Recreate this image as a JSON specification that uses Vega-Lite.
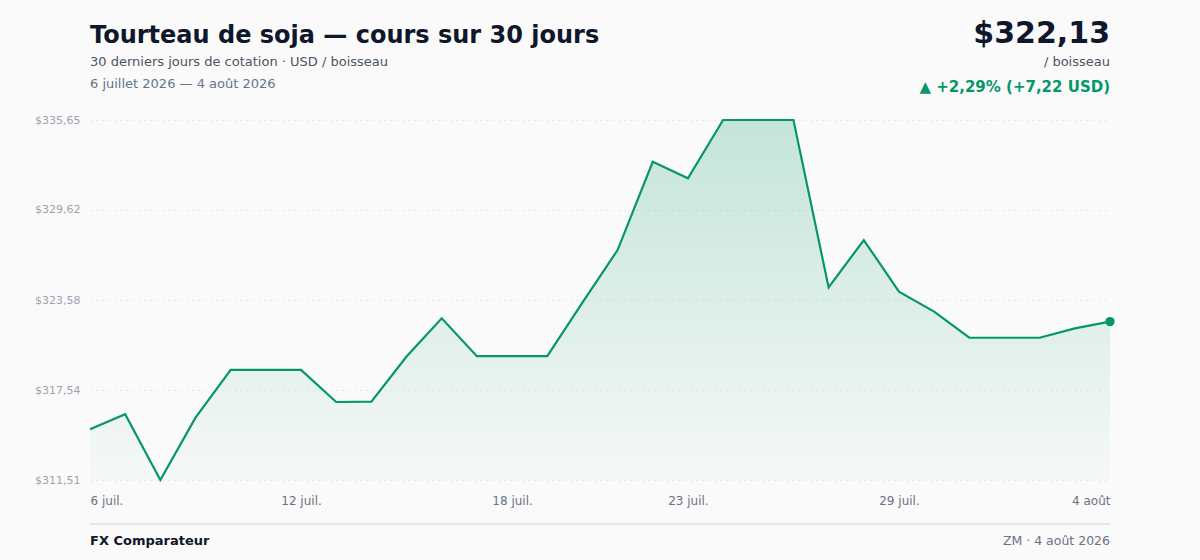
{
  "$schema": "https://vega.github.io/schema/vega-lite/v6.json",
  "width": 1020,
  "height": 360,
  "autosize": {"type": "none"},
  "padding": {"left": 90, "right": 90, "top": 120, "bottom": 80},
  "background": "#fafafa",
  "datasets": {
    "prices": [
      {"date": "2026-07-06", "price": 314.91},
      {"date": "2026-07-07", "price": 315.92},
      {"date": "2026-07-08", "price": 311.51},
      {"date": "2026-07-09", "price": 315.69},
      {"date": "2026-07-10", "price": 318.89},
      {"date": "2026-07-11", "price": 318.89},
      {"date": "2026-07-12", "price": 318.89},
      {"date": "2026-07-13", "price": 316.74},
      {"date": "2026-07-14", "price": 316.76},
      {"date": "2026-07-15", "price": 319.79},
      {"date": "2026-07-16", "price": 322.35},
      {"date": "2026-07-17", "price": 319.81},
      {"date": "2026-07-18", "price": 319.81},
      {"date": "2026-07-19", "price": 319.81},
      {"date": "2026-07-20", "price": 323.41},
      {"date": "2026-07-21", "price": 326.93},
      {"date": "2026-07-22", "price": 332.85},
      {"date": "2026-07-23", "price": 331.74},
      {"date": "2026-07-24", "price": 335.65},
      {"date": "2026-07-25", "price": 335.65},
      {"date": "2026-07-26", "price": 335.65},
      {"date": "2026-07-27", "price": 324.42},
      {"date": "2026-07-28", "price": 327.6},
      {"date": "2026-07-29", "price": 324.14},
      {"date": "2026-07-30", "price": 322.8},
      {"date": "2026-07-31", "price": 321.05},
      {"date": "2026-08-01", "price": 321.05},
      {"date": "2026-08-02", "price": 321.05},
      {"date": "2026-08-03", "price": 321.68},
      {"date": "2026-08-04", "price": 322.13}
    ]
  },
  "layer": [
    {
      "data": {"name": "prices"},
      "mark": {
        "type": "area",
        "interpolate": "linear",
        "color": {
          "gradient": "linear",
          "x1": 0, "y1": 0, "x2": 0, "y2": 1,
          "stops": [
            {"offset": 0, "color": "rgba(5,150,105,0.22)"},
            {"offset": 1, "color": "rgba(5,150,105,0.02)"}
          ]
        }
      },
      "encoding": {
        "x": {
          "field": "date", "type": "temporal",
          "scale": {"type": "utc"},
          "axis": {
            "title": null,
            "values": [
              {"year": 2026, "month": 7, "date": 6, "utc": true},
              {"year": 2026, "month": 7, "date": 12, "utc": true},
              {"year": 2026, "month": 7, "date": 18, "utc": true},
              {"year": 2026, "month": 7, "date": 23, "utc": true},
              {"year": 2026, "month": 7, "date": 29, "utc": true},
              {"year": 2026, "month": 8, "date": 4, "utc": true}
            ],
            "labelExpr": "utcdate(datum.value) + ' ' + (utcmonth(datum.value) == 6 ? 'juil.' : 'août')",
            "labelFlush": true,
            "labelPadding": 15,
            "labelFontSize": 12,
            "labelColor": "#6b7280",
            "grid": false
          }
        },
        "y": {
          "field": "price", "type": "quantitative",
          "scale": {"domain": [311.51, 335.65], "zero": false, "nice": false},
          "axis": {
            "title": null,
            "values": [311.51, 317.54, 323.58, 329.62, 335.65],
            "labelExpr": "'$' + replace(format(datum.value, '.2f'), '.', ',')",
            "labelPadding": 10,
            "labelFontSize": 11,
            "labelColor": "#9ca3af",
            "grid": true,
            "gridColor": "#e5e7eb",
            "gridDash": [2, 4],
            "gridWidth": 1
          }
        },
        "y2": {"datum": 311.51}
      }
    },
    {
      "data": {"name": "prices"},
      "mark": {"type": "line", "color": "#059669", "strokeWidth": 2.2},
      "encoding": {
        "x": {"field": "date", "type": "temporal"},
        "y": {"field": "price", "type": "quantitative"}
      }
    },
    {
      "data": {"name": "prices"},
      "transform": [{"filter": "datum.price == 322.13"}],
      "mark": {"type": "circle", "color": "#059669", "size": 85, "opacity": 1},
      "encoding": {
        "x": {"field": "date", "type": "temporal"},
        "y": {"field": "price", "type": "quantitative"}
      }
    },
    {
      "data": {"values": [{"t": "Tourteau de soja — cours sur 30 jours"}]},
      "mark": {"type": "text", "x": 0, "y": -77, "align": "left", "baseline": "alphabetic", "font": "DejaVu Sans", "fontSize": 24, "fontWeight": "bold", "color": "#0f172a"},
      "encoding": {"text": {"field": "t"}}
    },
    {
      "data": {"values": [{"t": "30 derniers jours de cotation · USD / boisseau"}]},
      "mark": {"type": "text", "x": 0, "y": -54, "align": "left", "baseline": "alphabetic", "font": "DejaVu Sans", "fontSize": 13, "color": "#4b5563"},
      "encoding": {"text": {"field": "t"}}
    },
    {
      "data": {"values": [{"t": "6 juillet 2026 — 4 août 2026"}]},
      "mark": {"type": "text", "x": 0, "y": -32, "align": "left", "baseline": "alphabetic", "font": "DejaVu Sans", "fontSize": 13, "color": "#64748b"},
      "encoding": {"text": {"field": "t"}}
    },
    {
      "data": {"values": [{"t": "$322,13"}]},
      "mark": {"type": "text", "x": "width", "y": -77, "align": "right", "baseline": "alphabetic", "font": "DejaVu Sans", "fontSize": 30, "fontWeight": "bold", "color": "#0f172a"},
      "encoding": {"text": {"field": "t"}}
    },
    {
      "data": {"values": [{"t": "/ boisseau"}]},
      "mark": {"type": "text", "x": "width", "y": -54, "align": "right", "baseline": "alphabetic", "font": "DejaVu Sans", "fontSize": 13, "color": "#4b5563"},
      "encoding": {"text": {"field": "t"}}
    },
    {
      "data": {"values": [{"t": "▲ +2,29% (+7,22 USD)"}]},
      "mark": {"type": "text", "x": "width", "y": -28, "align": "right", "baseline": "alphabetic", "font": "DejaVu Sans", "fontSize": 15, "fontWeight": "bold", "color": "#059669"},
      "encoding": {"text": {"field": "t"}}
    },
    {
      "data": {"values": [{}]},
      "mark": {"type": "rule", "color": "#e3e6ea", "strokeWidth": 2},
      "encoding": {
        "x": {"value": 0},
        "x2": {"value": "width"},
        "y": {"value": 404}
      }
    },
    {
      "data": {"values": [{"t": "FX Comparateur"}]},
      "mark": {"type": "text", "x": 0, "y": 421, "align": "left", "baseline": "middle", "font": "DejaVu Sans", "fontSize": 13, "fontWeight": "bold", "color": "#0f172a"},
      "encoding": {"text": {"field": "t"}}
    },
    {
      "data": {"values": [{"t": "ZM · 4 août 2026"}]},
      "mark": {"type": "text", "x": "width", "y": 421, "align": "right", "baseline": "middle", "font": "DejaVu Sans", "fontSize": 12.5, "color": "#6b7280"},
      "encoding": {"text": {"field": "t"}}
    }
  ],
  "config": {
    "view": {"stroke": null},
    "font": "DejaVu Sans",
    "axis": {"domain": false, "ticks": false, "labelFont": "DejaVu Sans"}
  }
}
